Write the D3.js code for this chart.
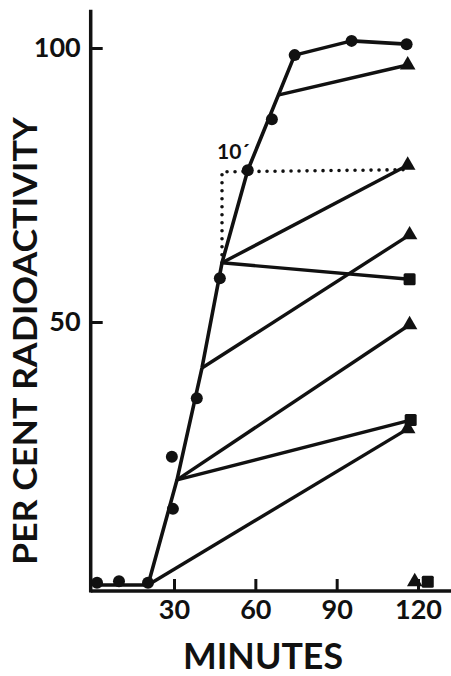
<!DOCTYPE html>
<html>
<head>
<meta charset="utf-8">
<script src="https://cdn.jsdelivr.net/npm/d3@7"></script>
<style>
  body { margin: 0; background: #fff; }
  text { font-family: Lato, 'DejaVu Sans', sans-serif; font-weight: 700; fill: #111; }
</style>
</head>
<body>
<div id="chart"></div>
<script>
// main uptake curve (circles)
const mainPoints = [
  [1.6, 2.4], [9.7, 2.7], [20.4, 2.4], [29.2, 25.4], [29.6, 15.9],
  [38.4, 36.1], [46.9, 58.0], [57.2, 77.7], [66.1, 87.0], [74.5, 98.7],
  [95.5, 101.3], [115.8, 100.7]
]
// line drawn through the circles
const mainLine = [
  [1.6, 2.0], [20.4, 2.0], [31.1, 21.2], [40.3, 41.6], [47.7, 60.8],
  [57.2, 77.7], [74.5, 98.7], [95.5, 101.3], [115.8, 100.7]
]
// chase lines, start point on main curve -> end at 120 min
const chaseLines = [
  [[68.3, 91.4], [116.2, 96.9]],
  [[47.7, 60.8], [116.2, 78.6]],
  [[47.7, 60.8], [116.9, 57.8]],
  [[40.3, 41.6], [116.9, 65.9]],
  [[31.1, 21.2], [116.9, 49.5]],
  [[31.1, 21.2], [117.3, 32.1]],
  [[20.4, 2.0], [116.2, 30.5]]
]
const dottedLine = [[47.7, 60.8], [47.7, 77.4], [116.2, 77.8]]
const triangles = [[116.2, 96.9], [116.2, 78.6], [116.9, 65.9], [116.9, 49.5], [116.2, 30.5], [118.8, 2.6]]
const squares = [[116.9, 57.8], [117.3, 32.1], [123.6, 2.6]]

const xTicks = [30, 60, 90, 120]
const yTicks = [50, 100]

const width = 451
const height = 676

const svg = d3
  .select('#chart')
  .append('svg')
  .attr('width', width)
  .attr('height', height)

const x = d3.scaleLinear().domain([0, 120]).range([92.7, 418])
const y = d3.scaleLinear().domain([0, 100]).range([596, 48])

const axisY = y(0) - 5
const axisX = x(0) - 2

// axes lines
svg.append('line')
  .attr('x1', axisX).attr('x2', width)
  .attr('y1', axisY).attr('y2', axisY)
  .attr('stroke', '#111').attr('stroke-width', 3.5)

svg.append('line')
  .attr('x1', axisX).attr('x2', axisX)
  .attr('y1', y(107)).attr('y2', axisY + 1.5)
  .attr('stroke', '#111').attr('stroke-width', 3.5)

const xAxis = svg.append('g')
  .attr('transform', `translate(0,${axisY})`)
  .call(d3.axisBottom(x).tickValues(xTicks).tickSize(-12).tickPadding(9))
xAxis.select('.domain').remove()

const yAxis = svg.append('g')
  .attr('transform', `translate(${axisX},0)`)
  .call(d3.axisLeft(y).tickValues(yTicks).tickSize(-12).tickPadding(10))
yAxis.select('.domain').remove()

svg.selectAll('.tick line').attr('stroke', '#111').attr('stroke-width', 3)
svg.selectAll('.tick text')
  .style('font-size', '27px')
  .attr('fill', '#111')
  .style('font-family', 'Lato, sans-serif')
  .style('font-weight', 700)

const line = d3.line().x(d => x(d[0])).y(d => y(d[1]))

// Lines
svg.append('path')
  .datum(dottedLine)
  .attr('d', line)
  .attr('fill', 'none')
  .attr('stroke', '#111')
  .attr('stroke-width', 3.6)
  .attr('stroke-linecap', 'round')
  .attr('stroke-dasharray', '0 8')

svg.selectAll('.chase')
  .data(chaseLines)
  .enter()
  .append('path')
  .attr('class', 'chase')
  .attr('d', line)
  .attr('fill', 'none')
  .attr('stroke', '#111')
  .attr('stroke-width', 3.4)

svg.append('path')
  .datum(mainLine)
  .attr('d', line)
  .attr('fill', 'none')
  .attr('stroke', '#111')
  .attr('stroke-width', 3.6)
  .attr('stroke-linejoin', 'round')

// Markers
svg.selectAll('.dot')
  .data(mainPoints)
  .enter()
  .append('circle')
  .attr('class', 'dot')
  .attr('cx', d => x(d[0]))
  .attr('cy', d => y(d[1]))
  .attr('r', 6)
  .attr('fill', '#111')

svg.selectAll('.tri')
  .data(triangles)
  .enter()
  .append('path')
  .attr('class', 'tri')
  .attr('d', d3.symbol().type(d3.symbolTriangle).size(105))
  .attr('transform', d => `translate(${x(d[0])},${y(d[1])})`)
  .attr('fill', '#111')

svg.selectAll('.sq')
  .data(squares)
  .enter()
  .append('rect')
  .attr('class', 'sq')
  .attr('x', d => x(d[0]) - 6)
  .attr('y', d => y(d[1]) - 6)
  .attr('width', 12)
  .attr('height', 12)
  .attr('rx', 1.5)
  .attr('fill', '#111')

// Text
svg.append('text')
  .text('10´')
  .attr('x', 217)
  .attr('y', 159)
  .style('font-size', '21px')

svg.append('text')
  .text('MINUTES')
  .attr('x', 263)
  .attr('y', 669)
  .attr('text-anchor', 'middle')
  .attr('textLength', 160)
  .attr('lengthAdjust', 'spacingAndGlyphs')
  .style('font-size', '36px')

svg.append('text')
  .text('PER CENT RADIOACTIVITY')
  .attr('transform', 'translate(37,341) rotate(-90)')
  .attr('text-anchor', 'middle')
  .attr('textLength', 448)
  .attr('lengthAdjust', 'spacingAndGlyphs')
  .style('font-size', '32px')
</script>
</body>
</html>
